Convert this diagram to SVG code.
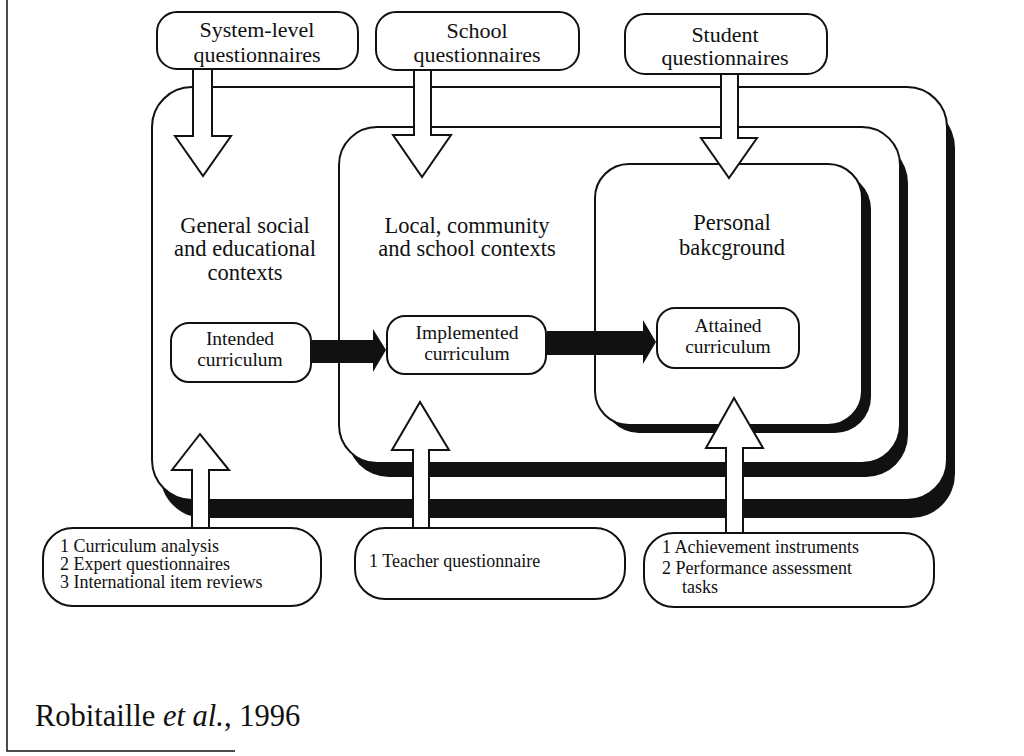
<svg xmlns="http://www.w3.org/2000/svg" width="1024" height="756" viewBox="0 0 1024 756">
<style>
text{font-family:"Liberation Serif","Times New Roman",serif;fill:#111}
.big{font-size:22.5px;text-anchor:middle}
.hd{font-size:22px;text-anchor:middle}
.sm{font-size:19.5px;text-anchor:middle}
.lst{font-size:18px}
.box{fill:#fff;stroke:#111;stroke-width:2}
.sh{fill:#111;stroke:none}
.hol{fill:#fff;stroke:#111;stroke-width:2;stroke-linejoin:miter}
.blk{fill:#111;stroke:none}
</style>
<rect width="1024" height="756" fill="#fff"/>
<g id="frame" stroke="#111" stroke-width="1.5" fill="none">
<path d="M7,0 L7,751 L235,751"/>
</g>

<g id="ctx-general">
<rect class="sh" x="160" y="104" width="795" height="414" rx="44"/>
<rect class="box" x="152" y="87" width="795" height="413" rx="40"/>
<text class="big" x="245" y="233">General social</text>
<text class="big" x="245" y="256">and educational</text>
<text class="big" x="245" y="280">contexts</text>
</g>
<g id="ctx-local">
<rect class="sh" x="347" y="141" width="561" height="336" rx="42"/>
<rect class="box" x="339" y="127" width="561" height="336" rx="38"/>
<text class="big" x="467" y="233">Local, community</text>
<text class="big" x="467" y="256">and school contexts</text>
</g>
<g id="ctx-personal">
<rect class="sh" x="603" y="173" width="268" height="260" rx="36"/>
<rect class="box" x="595" y="164" width="267" height="261" rx="34"/>
<text class="big" x="732" y="230">Personal</text>
<text class="big" x="732" y="255">bakcground</text>
</g>

<g id="intended">
<rect class="box" x="171" y="323" width="140" height="59" rx="18"/>
<text class="sm" x="240" y="345">Intended</text>
<text class="sm" x="240" y="366">curriculum</text>
</g>
<g id="implemented">
<rect class="box" x="387" y="316" width="159" height="58" rx="18"/>
<text class="sm" x="467" y="339">Implemented</text>
<text class="sm" x="467" y="360">curriculum</text>
</g>
<g id="attained">
<rect class="box" x="657" y="308" width="142" height="60" rx="18"/>
<text class="sm" x="728" y="332">Attained</text>
<text class="sm" x="728" y="353">curriculum</text>
</g>

<g id="connectors">
<path class="blk" d="M312,340 L373,340 L373,329 L386,350 L373,372 L373,363 L312,363 Z"/>
<path class="blk" d="M547,331 L643,331 L643,320 L656,342 L643,364 L643,355 L547,355 Z"/>
<path class="hol" d="M193,69 L212,69 L212,136 L231,136 L203,176 L175,136 L193,136 Z"/>
<path class="hol" d="M414,70 L431,70 L431,135 L451,135 L422,177 L393,135 L414,135 Z"/>
<path class="hol" d="M721,74 L738,74 L738,138 L757,138 L729,178 L701,138 L721,138 Z"/>
<path class="hol" d="M192,528 L209,528 L209,470 L229,470 L200,434 L172,470 L192,470 Z"/>
<path class="hol" d="M413,528 L429,528 L429,450 L449,450 L420,402 L392,450 L413,450 Z"/>
<path class="hol" d="M726,533 L743,533 L743,448 L763,448 L734,398 L706,448 L726,448 Z"/>
</g>

<g id="q-system">
<rect class="box" x="157" y="12" width="201" height="57" rx="20"/>
<text class="hd" x="257" y="37">System-level</text>
<text class="hd" x="257" y="62">questionnaires</text>
</g>
<g id="q-school">
<rect class="box" x="376" y="12" width="203" height="58" rx="20"/>
<text class="hd" x="477" y="38">School</text>
<text class="hd" x="477" y="62">questionnaires</text>
</g>
<g id="q-student">
<rect class="box" x="625" y="14" width="202" height="60" rx="20"/>
<text class="hd" x="725" y="42">Student</text>
<text class="hd" x="725" y="65">questionnaires</text>
</g>

<g id="m-general">
<rect class="box" x="43" y="528" width="278" height="78" rx="30"/>
<text class="lst" x="60" y="552">1 Curriculum analysis</text>
<text class="lst" x="60" y="570">2 Expert questionnaires</text>
<text class="lst" x="60" y="588">3 International item reviews</text>
</g>
<g id="m-local">
<rect class="box" x="355" y="528" width="270" height="71" rx="30"/>
<text class="lst" x="369" y="567">1 Teacher questionnaire</text>
</g>
<g id="m-personal">
<rect class="box" x="644" y="533" width="290" height="74" rx="30"/>
<text class="lst" x="662" y="553">1 Achievement instruments</text>
<text class="lst" x="662" y="574">2 Performance assessment</text>
<text class="lst" x="682" y="593">tasks</text>
</g>

<g id="citation">
<text x="35" y="726" style="font-size:30.5px">Robitaille <tspan font-style="italic">et al.</tspan>, 1996</text>
</g>
</svg>
